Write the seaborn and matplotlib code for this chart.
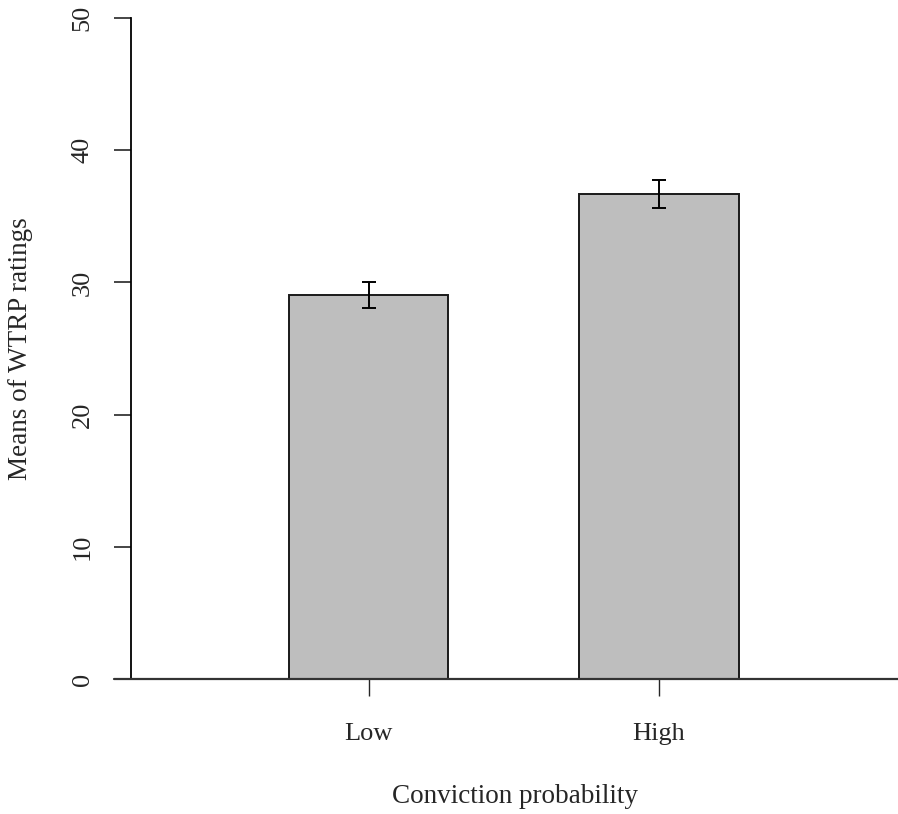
import matplotlib
matplotlib.use("Agg")
import matplotlib.pyplot as plt
import seaborn as sns
import pandas as pd

categories = ["Low", "High"]
means = [29.05, 36.7]
err_low = [28.07, 35.65]
err_high = [30.05, 37.75]
yticks = [0, 10, 20, 30, 40, 50]

sns.set_style("white")
plt.rcParams['font.family'] = ['Liberation Serif', 'DejaVu Serif']

W, H = 898, 814
fig = plt.figure(figsize=(W / 100, H / 100), dpi=100)
left_px, right_px, top_px, bot_px = 131, 898, 18, 679
ax = fig.add_axes([left_px / W, 1 - bot_px / H, (right_px - left_px) / W, (bot_px - top_px) / H])

df = pd.DataFrame({"cat": categories, "mean": means})
sns.barplot(data=df, x="cat", y="mean", ax=ax, color="#BEBEBE", width=0.55,
            edgecolor="#1a1a1a", linewidth=1.4, saturation=1, errorbar=None)

yerr = [[m - l for m, l in zip(means, err_low)], [h - m for m, h in zip(means, err_high)]]
ax.errorbar(range(len(categories)), means, yerr=yerr, fmt="none", ecolor="black",
            elinewidth=1.4, capsize=5, capthick=1.4)

unit = 290.5
x0 = 368.5
ax.set_xlim((left_px - x0) / unit, (right_px - x0) / unit)
ax.set_ylim(0, 50)
ax.set_yticks(yticks)
ax.set_yticklabels([str(t) for t in yticks], rotation=90, va="center", fontsize=19)
ax.tick_params(axis="y", direction="out", length=12, width=1.2, pad=15, left=True)
ax.tick_params(axis="x", direction="out", length=12, width=1.0, pad=20, bottom=True, labelsize=19)

for s in ["top", "right", "bottom"]:
    ax.spines[s].set_visible(False)
ax.spines["left"].set_linewidth(1.3)
ax.spines["left"].set_color("black")

ax.axhline(0, xmin=(114 - left_px) / (right_px - left_px), xmax=1.0, color="#333333",
           linewidth=1.6, clip_on=False, zorder=5)

ax.set_xlabel("Conviction probability", fontsize=19.5, labelpad=28)
ax.set_ylabel("Means of WTRP ratings", fontsize=19.5, labelpad=28)

fig.savefig("out.png", dpi=100)
